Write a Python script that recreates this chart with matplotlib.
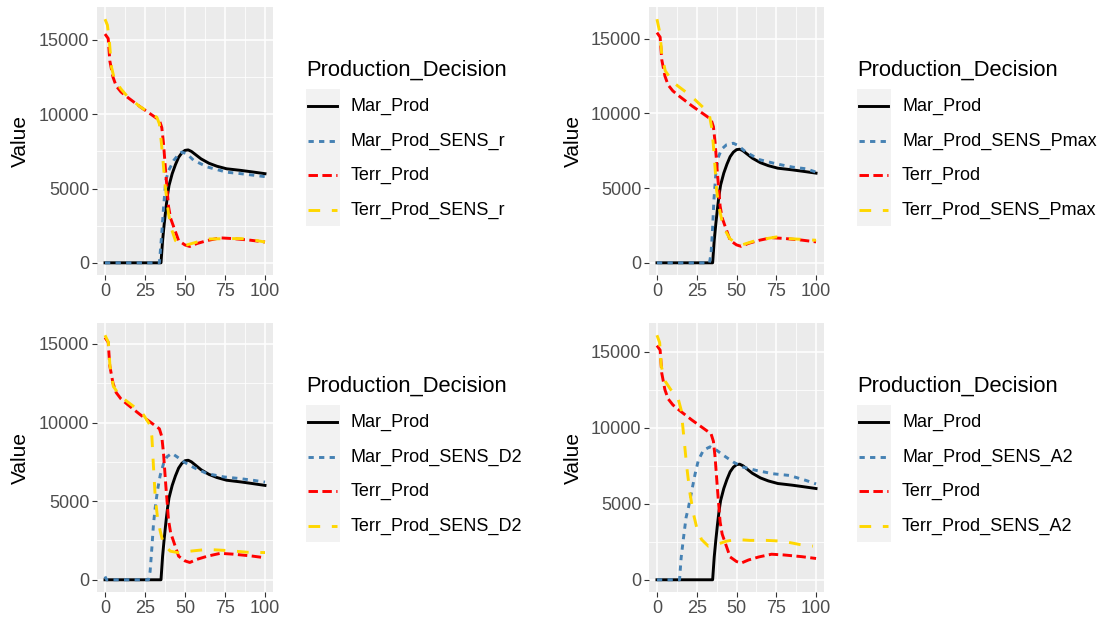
import matplotlib
matplotlib.use("Agg")
import matplotlib.pyplot as plt
from matplotlib.lines import Line2D
from matplotlib.patches import Rectangle

plt.rcParams["font.family"] = ["Liberation Sans", "DejaVu Sans"]
plt.rcParams["lines.scale_dashes"] = False

W, H = 1108, 623

# ── shared baseline series ──
mar_t = [0, 35, 36, 37, 38, 39, 40, 42, 44, 46, 48, 50, 52, 54, 57, 60, 65, 70, 76, 85, 92, 100]
mar_v = [0, 0, 1500, 2600, 3600, 4500, 5200, 6000, 6600, 7100, 7400, 7570, 7600, 7500, 7250, 7000,
         6700, 6500, 6330, 6220, 6120, 6000]

terr_t = [0, 2, 3, 5, 7, 10, 14, 22, 30, 34, 35.5, 36.6, 38, 39.7, 41, 43, 46, 50, 53, 57.5, 64,
          72, 80, 91, 100]
terr_v = [15400, 15100, 13600, 12500, 11900, 11500, 11150, 10500, 9900, 9600, 9100, 8000, 6000,
          3800, 3000, 2400, 1500, 1200, 1100, 1300, 1500, 1680, 1630, 1520, 1400]

# ── sensitivity runs ──
sens_r_mar_t = [0, 34, 35.5, 36.6, 38, 39.7, 43, 46, 48, 51, 55.4, 64, 76, 85, 100]
sens_r_mar_v = [0, 0, 2000, 3750, 5550, 6200, 6900, 7300, 7450, 7350, 6900, 6450, 6100, 6000, 5800]
sens_r_terr_t = [0, 1.5, 2.7, 4, 6, 10, 14, 22, 30, 32.4, 34, 35.5, 36.6, 37.7, 39.7, 41.8, 44, 47,
                 51, 57.5, 64, 76, 85, 91, 100]
sens_r_terr_v = [16400, 16000, 14950, 13200, 12300, 11700, 11200, 10500, 9950, 9800, 9350, 7800,
                 6450, 5100, 3300, 2200, 1500, 1200, 1200, 1400, 1600, 1630, 1630, 1570, 1400]

sens_p_mar_t = [0, 33, 34, 34.8, 35.8, 37, 38.5, 40.6, 43.75, 48, 51, 56, 64.6, 75, 85.4, 93.75, 100]
sens_p_mar_v = [0, 0, 620, 1950, 4200, 5950, 7050, 7600, 7900, 8000, 7850, 7400, 6900, 6620, 6400,
                6290, 6070]
sens_p_terr_t = [0, 2, 3, 5.2, 10.4, 21, 29, 33, 34.4, 35.4, 36.5, 37.5, 39, 41.7, 45.8, 50, 54,
                 62.5, 75, 83, 100]
sens_p_terr_v = [16300, 15300, 13950, 12850, 12050, 11200, 10400, 9850, 9050, 7950, 6400, 4850, 3730,
                 2400, 1620, 1290, 1220, 1500, 1730, 1620, 1510]

sens_d_mar_t = [0, 1, 27.2, 28.2, 29.3, 30.3, 31.4, 32.8, 34.5, 36.6, 38.7, 41.8, 45, 49.2, 55.4,
                63.8, 74.3, 84.7, 93, 100]
sens_d_mar_v = [210, 0, 0, 540, 2040, 3540, 4600, 5680, 6640, 7390, 7820, 8040, 7820, 7500, 7140,
                6750, 6540, 6430, 6320, 6210]
sens_d_terr_t = [0, 2.1, 3.1, 5.2, 9.4, 17.8, 24, 28, 29.3, 30.3, 31.4, 32.8, 34.5, 36.6, 40.8, 47,
                 53.3, 63.8, 76.4, 89, 100]
sens_d_terr_v = [15550, 15100, 13600, 12300, 11680, 11030, 10500, 9860, 9100, 7180, 5250, 3960, 3100,
                 2250, 1820, 1700, 1820, 1930, 1860, 1750, 1730]

sens_a_mar_t = [0, 14.2, 15.2, 16.7, 18.3, 19.8, 21.9, 24, 26, 29.2, 33.3, 37.5, 41.7, 48, 54, 62.5,
                73, 83.3, 93.75, 100]
sens_a_mar_v = [0, 0, 1440, 2770, 4090, 4760, 5860, 6970, 7850, 8520, 8740, 8520, 8190, 7740, 7410,
                7190, 6970, 6860, 6530, 6300]
sens_a_terr_t = [0, 1.7, 2.7, 5.2, 9.4, 13.5, 15.2, 16.25, 17.3, 18.75, 20.8, 23, 25, 28, 32.3, 37.5,
                 43.75, 50, 58.3, 68.75, 79, 89.6, 98]
sens_a_terr_v = [16080, 15600, 14050, 13050, 12390, 11840, 11170, 10070, 8960, 7410, 5640, 4310, 3430,
                 2650, 2210, 2320, 2540, 2650, 2590, 2590, 2540, 2320, 2210]

panels = [
    ("r", sens_r_mar_t, sens_r_mar_v, sens_r_terr_t, sens_r_terr_v),
    ("Pmax", sens_p_mar_t, sens_p_mar_v, sens_p_terr_t, sens_p_terr_v),
    ("D2", sens_d_mar_t, sens_d_mar_v, sens_d_terr_t, sens_d_terr_v),
    ("A2", sens_a_mar_t, sens_a_mar_v, sens_a_terr_t, sens_a_terr_v),
]

# pixel boxes of the four panels (left, right, top, bottom)
boxes = [(97, 273, 7, 275), (649, 824, 7, 275), (97, 273, 323, 592), (649, 824, 323, 592)]

LW = 2.1
styles = {
    "mar": dict(color="black", lw=LW, ls="-"),
    "mar_s": dict(color="#4682B4", lw=LW, ls=(0, (3.8, 3.8))),
    "terr": dict(color="#FF0000", lw=LW, ls=(0, (6.8, 3.2))),
    "terr_s": dict(color="#FFD700", lw=LW, ls=(0, (8.4, 8.4))),
}

fig = plt.figure(figsize=(W / 100, H / 100), dpi=100)

for (suffix, mt, mv, tt, tv), (x0, x1, y0, y1) in zip(panels, boxes):
    ax = fig.add_axes([x0 / W, 1 - y1 / H, (x1 - x0) / W, (y1 - y0) / H])
    ax.set_facecolor("#EBEBEB")
    for s in ax.spines.values():
        s.set_visible(False)
    ax.set_xticks([0, 25, 50, 75, 100])
    ax.set_xticks([12.5, 37.5, 62.5, 87.5], minor=True)
    ax.set_yticks([0, 5000, 10000, 15000])
    ax.set_yticks([2500, 7500, 12500], minor=True)
    ax.grid(True, which="major", color="white", lw=1.1)
    ax.grid(True, which="minor", color="white", lw=0.55)
    ax.set_axisbelow(True)
    ax.tick_params(which="major", length=3.5, width=0.8, color="#333333",
                   labelsize=13, labelcolor="#4D4D4D", pad=2)
    ax.tick_params(which="minor", length=0)

    ax.plot(mar_t, mar_v, **styles["mar"])
    ax.plot(mt, mv, **styles["mar_s"])
    ax.plot(terr_t, terr_v, **styles["terr"])
    ax.plot(tt, tv, **styles["terr_s"])
    ax.margins(0.05)

    ax.set_ylabel("Value", fontsize=15, color="black")
    ax.yaxis.set_label_coords(-0.38, 0.5)

    # legend (ggplot-style, right of panel)
    lx = x1 + 33
    title_y = y0 + 63
    keys_y = [y0 + 99, y0 + 134, y0 + 168, y0 + 203]
    fig.text(lx / W, 1 - title_y / H, "Production_Decision", fontsize=15.8,
             ha="left", va="center")
    fig.add_artist(Rectangle((lx / W, 1 - (y0 + 219) / H), 34 / W, 137 / H,
                             transform=fig.transFigure, facecolor="#F2F2F2",
                             edgecolor="none"))
    labels = ["Mar_Prod", f"Mar_Prod_SENS_{suffix}", "Terr_Prod", f"Terr_Prod_SENS_{suffix}"]
    for key, lab, ky in zip(["mar", "mar_s", "terr", "terr_s"], labels, keys_y):
        fig.add_artist(Line2D([(lx + 2) / W, (lx + 31) / W], [1 - ky / H, 1 - ky / H],
                              transform=fig.transFigure, **styles[key]))
        fig.text((lx + 45) / W, 1 - ky / H, lab, fontsize=13, ha="left", va="center")

fig.savefig("out.png", dpi=100)
